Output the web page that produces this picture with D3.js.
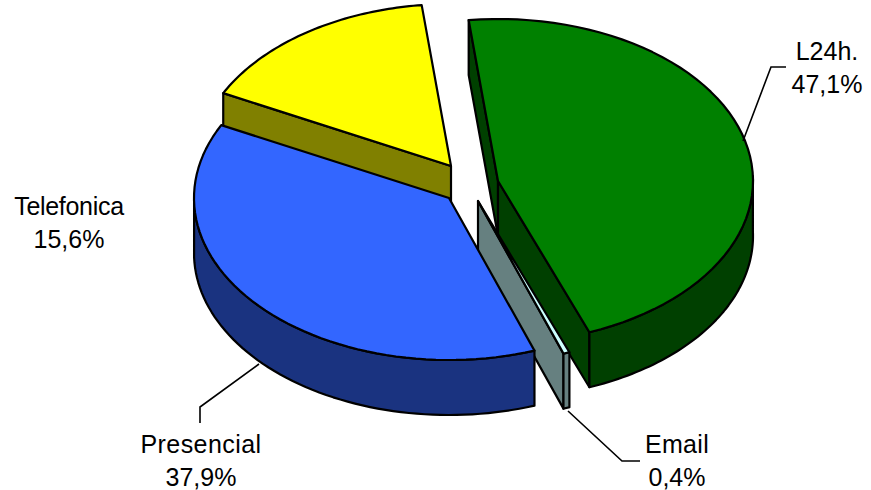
<!DOCTYPE html>
<html><head><meta charset="utf-8">
<script src="https://cdn.jsdelivr.net/npm/d3@7"></script>
<style>html,body{margin:0;background:#fff}svg{display:block}</style></head>
<body><svg id="c" width="871" height="490"></svg>
<script>
const categories=["L24h.","Email","Presencial","Telefonica"];
const values=[47.1,0.4,37.9,15.6];
const percentLabels=["47,1%","0,4%","37,9%","15,6%"];
const topColors=["#008000","#CCFFFF","#3366FF","#FFFF00"];
const sideColors=["#004000","#668080","#1A3380","#808000"];
const apexes=[[498,181],[478,201],[449,198],[451,166]];
const labelPos=[[827,60],[677,453],[201,453],[69,215]];
const labelSpacing=[0,0.3,0.45,-0.3];
const leaders=[[[743,141],[771,67],[786,67]],[[568,411],[622,461],[640,461]],[[259,364],[200,407],[200,423]],null];
const RX=255,RY=162,DEPTH=55;
const svg=d3.select("#c");
const line=d3.line();
const deg=Math.PI/180,START=-6.6*deg;
const pie=d3.pie().sort(null).startAngle(START).endAngle(START+2*Math.PI);
const arcs=pie(values);
// slight angular squeeze of the 3D view
const warp=t=>t-2.3*deg*Math.sin((t-START)/2);
function pt(i,t,down){const [ax,ay]=apexes[i],w=warp(t);return [ax+RX*Math.sin(w),ay-RY*Math.cos(w)+(down?DEPTH:0)];}
function face(i,t){const a=apexes[i];return [a,pt(i,t,false),pt(i,t,true),[a[0],a[1]+DEPTH]];}
function sampled(t0,t1){return d3.range(0,61).map(k=>t0+(t1-t0)*k/60);}
function drawSlice(i){
  const {startAngle:s,endAngle:e}=arcs[i];
  const g=svg.append("g").attr("stroke","#000").attr("stroke-width",2.2).attr("stroke-linejoin","round");
  if(i===0||i===3){g.append("path").attr("d",line(face(i,s))+"Z").attr("fill",sideColors[i]);}
  if(i===0||i===1){g.append("path").attr("d",line(face(i,e))+"Z").attr("fill",sideColors[i]);}
  const lo=Math.max(s,90*deg),hi=Math.min(e,270*deg);
  if(hi>lo){const ts=sampled(lo,hi);
    const wall=ts.map(t=>pt(i,t,false)).concat(ts.slice().reverse().map(t=>pt(i,t,true)));
    g.append("path").attr("d",line(wall)+"Z").attr("fill",sideColors[i]);}
  const top=[apexes[i]].concat(sampled(s,e).map(t=>pt(i,t,false)));
  g.append("path").attr("d",line(top)+"Z").attr("fill",topColors[i]);
}
[3,0,1,2].forEach(drawSlice);
leaders.forEach(l=>{if(l)svg.append("path").attr("d",line(l)).attr("fill","none").attr("stroke","#000").attr("stroke-width",1.6);});
svg.append("clipPath").attr("id","tc").append("rect").attr("x",14).attr("y",190).attr("width",200).attr("height",70);
categories.forEach((c,i)=>{
  const [x,y]=labelPos[i];
  const t=svg.append("text").attr("text-anchor","middle").attr("font-family","Liberation Sans, Arial, sans-serif").attr("font-size",25).attr("fill","#000");
  if(i===3)t.attr("clip-path","url(#tc)");
  t.append("tspan").attr("x",x).attr("y",y).attr("letter-spacing",labelSpacing[i]).text(c);
  t.append("tspan").attr("x",x).attr("y",y+33).text(percentLabels[i]);
});
</script></body></html>
